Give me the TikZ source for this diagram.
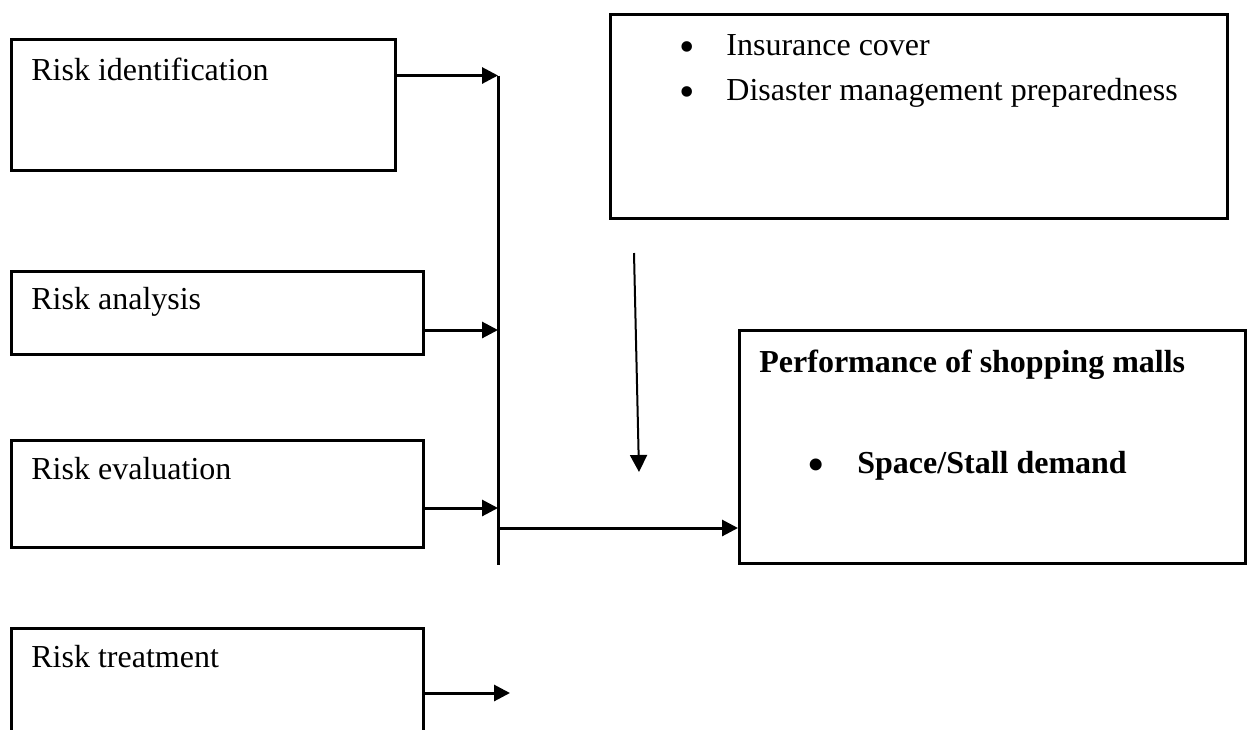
\documentclass[tikz,border=0pt]{standalone}
\usepackage{fontspec}
\setmainfont{Liberation Serif}
\usepackage{tikz}
\usetikzlibrary{positioning,arrows.meta,calc}

\newcommand{\bigdot}{\makebox[23.5pt][l]{\raisebox{-3.2pt}{\fontsize{22}{22}\selectfont\textbullet}}}

\begin{document}
\begin{tikzpicture}[
  x=0.5pt, y=-0.5pt,
  box/.style={draw, line width=1.3pt, inner sep=0pt, anchor=north west},
  lbl/.style={anchor=base west, inner sep=0pt, font=\fontsize{16}{19}\selectfont},
  bus/.style={line width=1.5pt},
  arr/.style={line width=1.5pt, -{Triangle[length=8pt,width=8pt]}},
  thinarr/.style={line width=1pt, -{Triangle[length=8.5pt,width=8.5pt]}}
]
  \useasboundingbox (0,0) rectangle (1248,729);
  \clip (0,0) rectangle (1248,729);

  \node[box, minimum width=192pt, minimum height=65.5pt] (ident) at (10,38) {};
  \node[box, minimum width=206pt, minimum height=41.5pt] (anal)  at (10,270) {};
  \node[box, minimum width=206pt, minimum height=53.5pt] (evalu) at (10,439) {};
  \node[box, minimum width=206pt, minimum height=70pt]   (treat) at (10,627) {};
  \node[box, minimum width=308.5pt, minimum height=102pt] (moder) at (609,13) {};
  \node[box, minimum width=253pt, minimum height=116.5pt] (perf)  at (738,329) {};

  \node[lbl] (identtxt) at ($(ident.north west)+(21,42)$) {Risk identification};
  \node[lbl] (analtxt)  at ($(anal.north west)+(21,39)$)  {Risk analysis};
  \node[lbl] (evalutxt) at ($(evalu.north west)+(21,40)$) {Risk evaluation};
  \node[lbl] (treattxt) at ($(treat.north west)+(21,40)$) {Risk treatment};
  \node[lbl] (insur) at (679,55)  {\bigdot Insurance cover};
  \node[lbl] (disas) at (679,100) {\bigdot Disaster management preparedness};
  \node[lbl, font=\fontsize{16}{19}\selectfont\bfseries] (perftxt) at (759,372) {Performance of shopping malls};
  \node[lbl, font=\fontsize{16}{19}\selectfont\bfseries] (space) at (808,473) {\makebox[24.5pt][l]{\raisebox{-3.2pt}{\fontsize{22}{22}\selectfont\textbullet}}Space/Stall demand};

  \coordinate (j1) at (498,75.5);
  \coordinate (j2) at (498,330);
  \coordinate (j3) at (498,508);
  \coordinate (j5) at (498,528);
  \coordinate (busend) at (498,565);
  \coordinate (treatend) at (510,693);
  \coordinate (modtop) at (634,253);
  \coordinate (modbot) at (639,472);

  \draw[bus] (j1) -- (busend);
  \draw[arr] (ident.east |- j1) -- (j1);
  \draw[arr] (anal.east |- j2) -- (j2);
  \draw[arr] (evalu.east |- j3) -- (j3);
  \draw[arr] (treat.east |- treatend) -- (treatend);
  \draw[arr] (j5) -- (perf.west |- j5);
  \draw[thinarr] (modtop) -- (modbot);
\end{tikzpicture}
\end{document}
